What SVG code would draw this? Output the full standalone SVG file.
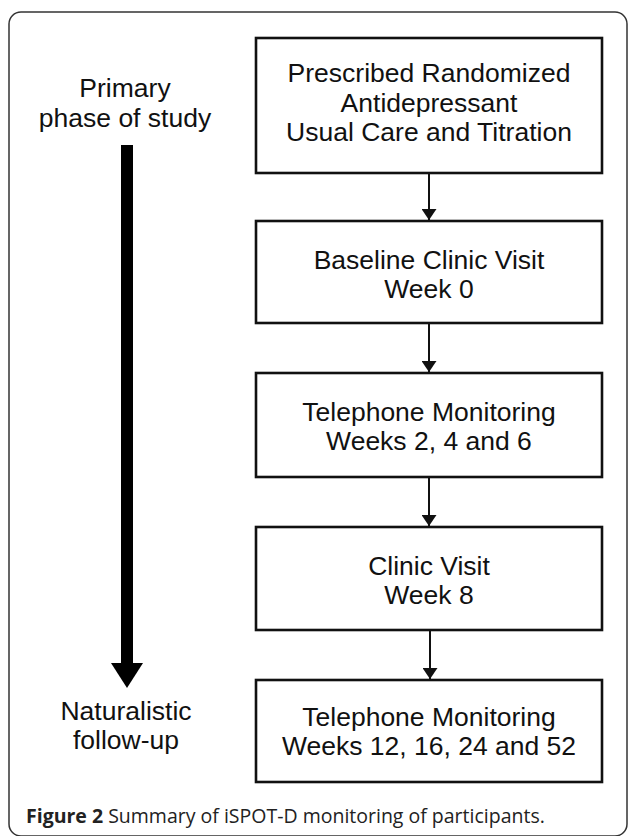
<svg xmlns="http://www.w3.org/2000/svg" width="629" height="836" viewBox="0 0 629 836">
<defs>
<style>
.box{fill:#fff;stroke:#111;stroke-width:2.6}
.t{font-family:"Liberation Sans",Arial,sans-serif;font-size:26.5px;fill:#111;text-anchor:middle}
.conn{stroke:#111;stroke-width:2;fill:none}
.cap{font-family:"Open Sans","Noto Sans",sans-serif;font-size:19.5px;fill:#222}
</style>
<marker id="ah" viewBox="0 0 11 15" refX="11" refY="7.5" markerWidth="11" markerHeight="15" markerUnits="userSpaceOnUse" orient="auto">
<path d="M0,0 L11,7.5 L0,15 Z" fill="#111"/>
</marker>
</defs>
<rect width="629" height="836" fill="#fff"/>
<rect x="9" y="12" width="618" height="824" rx="12" ry="12" fill="none" stroke="#333" stroke-width="1.5"/>
<g id="phase-arrow">
<rect x="121" y="145" width="12" height="520" fill="#000"/>
<polygon points="111,663 143,663 127,688" fill="#000"/>
<text class="t" x="125" y="97">Primary</text>
<text class="t" x="125" y="127">phase of study</text>
<text class="t" x="126" y="720">Naturalistic</text>
<text class="t" x="126" y="749">follow-up</text>
</g>
<g id="n1">
<rect class="box" x="256" y="38" width="346" height="135"/>
<text class="t" x="429" y="82">Prescribed Randomized</text>
<text class="t" x="429" y="112">Antidepressant</text>
<text class="t" x="429" y="141">Usual Care and Titration</text>
</g>
<g id="n2">
<rect class="box" x="256" y="221" width="346" height="102"/>
<text class="t" x="429" y="269">Baseline Clinic Visit</text>
<text class="t" x="429" y="298">Week 0</text>
</g>
<g id="n3">
<rect class="box" x="256" y="373" width="346" height="104"/>
<text class="t" x="429" y="421">Telephone Monitoring</text>
<text class="t" x="429" y="450">Weeks 2, 4 and 6</text>
</g>
<g id="n4">
<rect class="box" x="256" y="527" width="346" height="103"/>
<text class="t" x="429" y="575">Clinic Visit</text>
<text class="t" x="429" y="604">Week 8</text>
</g>
<g id="n5">
<rect class="box" x="256" y="680" width="346" height="102"/>
<text class="t" x="429" y="726">Telephone Monitoring</text>
<text class="t" x="429" y="755">Weeks 12, 16, 24 and 52</text>
</g>
<g id="connectors">
<line class="conn" x1="429" y1="174" x2="429" y2="220" marker-end="url(#ah)"/>
<line class="conn" x1="429" y1="324" x2="429" y2="372" marker-end="url(#ah)"/>
<line class="conn" x1="429" y1="478" x2="429" y2="526" marker-end="url(#ah)"/>
<line class="conn" x1="430" y1="631" x2="430" y2="679" marker-end="url(#ah)"/>
</g>
<text class="cap" x="26" y="823"><tspan font-weight="bold">Figure 2</tspan> Summary of iSPOT-D monitoring of participants.</text>
</svg>
